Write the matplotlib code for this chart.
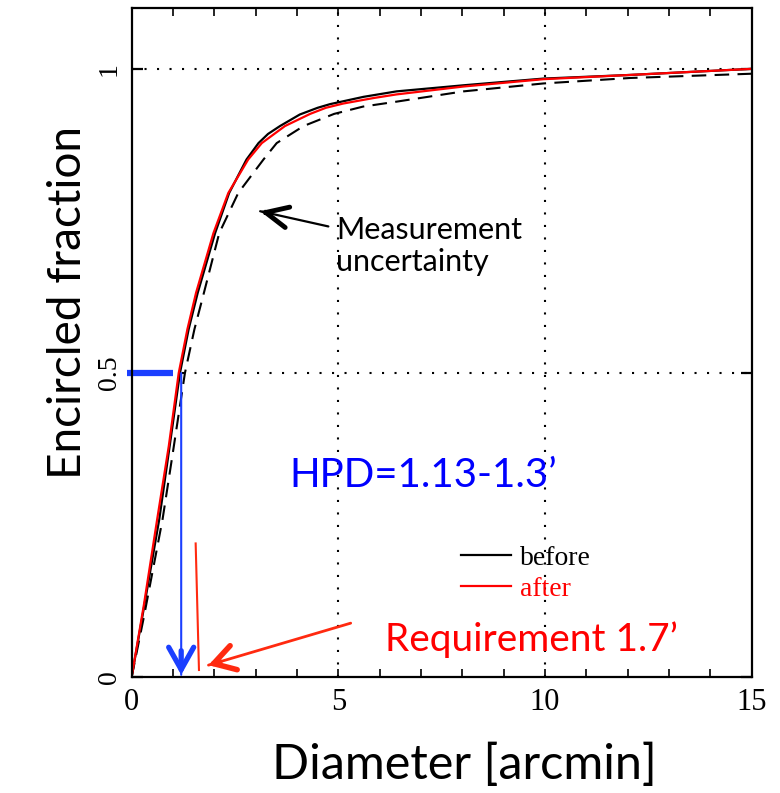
import matplotlib
matplotlib.use("Agg")
import matplotlib.pyplot as plt
from matplotlib.ticker import MultipleLocator, FixedLocator

# encircled energy curves (diameter in arcmin)
before_x = [0, 0.3, 0.67, 0.9, 1.17, 1.38, 1.6, 2.02, 2.36, 2.78, 3.07, 3.3, 3.59, 4.07, 4.5, 4.8, 5.61, 6.41, 8.03, 9.96, 12.06, 15.0]
before_y = [0, 0.115, 0.26, 0.37, 0.50, 0.572, 0.632, 0.73, 0.796, 0.851, 0.878, 0.893, 0.906, 0.925, 0.936, 0.942, 0.954, 0.963, 0.973, 0.984, 0.990, 1.0]

after_x = [0, 0.3, 0.62, 0.9, 1.14, 1.35, 1.56, 1.98, 2.34, 2.82, 3.15, 3.71, 4.32, 4.7, 5.12, 5.85, 6.41, 8.03, 9.96, 12.06, 15.0]
after_y = [0, 0.12, 0.26, 0.38, 0.50, 0.572, 0.632, 0.73, 0.796, 0.851, 0.878, 0.906, 0.926, 0.936, 0.943, 0.952, 0.958, 0.971, 0.983, 0.990, 1.0]

uncert_x = [0, 0.3, 0.75, 1.0, 1.29, 1.52, 1.75, 2.12, 2.58, 3.19, 3.51, 4.16, 4.9, 5.6, 6.4, 8.03, 9.96, 12.06, 15.0]
uncert_y = [0, 0.1, 0.26, 0.37, 0.50, 0.572, 0.632, 0.73, 0.796, 0.851, 0.878, 0.906, 0.926, 0.938, 0.946, 0.963, 0.976, 0.985, 0.992]

x_ticks = [0, 5, 10, 15]
y_ticks = [0, 0.5, 1]
y_tick_labels = ["0", "0.5", "1"]

hpd_x = 1.20
req_x = [1.55, 1.63]
req_y = [0.22, 0.012]

SANS = "Lato"
SERIF = "Liberation Serif"
BLUE = "#1b3fff"
ORANGE_RED = "#ff2a10"

fig = plt.figure(figsize=(7.8, 7.93), dpi=100)
ax = fig.add_axes([0.1687, 0.1459, 0.795, 0.844])

ax.plot(uncert_x, uncert_y, color="black", lw=1.5, ls=(0, (7, 4)))
l_before, = ax.plot(before_x, before_y, color="black", lw=1.6)
l_after, = ax.plot(after_x, after_y, color="red", lw=1.6)

ax.set_xlim(0, 15)
ax.set_ylim(0, 1.1)

# dotted grid
for gx in x_ticks[1:3]:
    ax.axvline(gx, color="black", lw=1.5, ls=(0, (1, 5)), zorder=0)
for gy in y_ticks[1:]:
    ax.axhline(gy, color="black", lw=1.5, ls=(0, (1, 5)), zorder=0)

for sp in ax.spines.values():
    sp.set_linewidth(1.6)

ax.xaxis.set_major_locator(FixedLocator(x_ticks))
ax.xaxis.set_minor_locator(MultipleLocator(1))
ax.yaxis.set_major_locator(FixedLocator(y_ticks))
ax.set_yticklabels(y_tick_labels)
ax.tick_params(axis="x", which="both", direction="in", top=True, length=6, width=1.2, pad=8)
ax.tick_params(axis="y", which="major", direction="in", right=True, length=8, width=1.6, pad=7)
for lab in ax.get_xticklabels():
    lab.set_fontfamily(SERIF)
    lab.set_fontsize(22)
for lab in ax.get_yticklabels():
    lab.set_fontfamily(SERIF)
    lab.set_fontsize(20)
    lab.set_rotation(90)
    lab.set_va("center")

ax.set_xlabel("Diameter [arcmin]", fontfamily=SANS, fontsize=35)
ax.xaxis.set_label_coords(0.536, -0.098)
ax.set_ylabel("Encircled fraction", fontfamily=SANS, fontsize=33)
ax.yaxis.set_label_coords(-0.068, 0.56)


def arrow(tail, tip, color, shaft_lw, head_lw, head_len, head_w):
    ax.annotate("", xy=tip, xytext=tail,
                arrowprops=dict(arrowstyle="-", color=color, lw=shaft_lw,
                                shrinkA=0, shrinkB=0), annotation_clip=False)
    near = (tip[0] + 0.08 * (tail[0] - tip[0]), tip[1] + 0.08 * (tail[1] - tip[1]))
    ax.annotate("", xy=tip, xytext=near,
                arrowprops=dict(arrowstyle="->,head_length=%g,head_width=%g" % (head_len, head_w),
                                color=color, lw=head_lw, shrinkA=0, shrinkB=0,
                                mutation_scale=10, capstyle="round", joinstyle="miter"),
                annotation_clip=False)


# half power diameter marker
ax.plot([-0.12, 1.01], [0.5, 0.5], color=BLUE, lw=4.5, solid_capstyle="butt", clip_on=False)
arrow((hpd_x, 0.5), (hpd_x, 0.004), BLUE, 1.5, 3.8, 1.6, 0.9)
ax.text(3.81, 0.331, "HPD=1.13-1.3\u2019", color="blue", fontfamily=SANS, fontsize=29,
        ha="left", va="center")

# requirement
ax.plot(req_x, req_y, color=ORANGE_RED, lw=1.5)
arrow((5.30, 0.089), (1.86, 0.020), ORANGE_RED, 2.0, 4.0, 1.5, 0.9)
ax.text(6.13, 0.062, "Requirement 1.7\u2019", color="red", fontfamily=SANS, fontsize=28,
        ha="left", va="center")

# measurement uncertainty note
arrow((4.76, 0.741), (3.11, 0.766), "black", 1.6, 3.5, 1.6, 0.75)
ax.text(4.94, 0.709, "Measurement\nuncertainty", color="black", fontfamily=SANS, fontsize=22,
        ha="left", va="center", linespacing=1.2)

ax.legend([l_before, l_after], ["before", "after"], loc="upper left",
          bbox_to_anchor=(0.532, 0.197), frameon=False, borderpad=0, borderaxespad=0,
          handlelength=1.8, handletextpad=0.3, labelspacing=0.2,
          prop={"family": SERIF, "size": 20}, labelcolor=["black", "red"])

fig.savefig("out.png", dpi=100)
